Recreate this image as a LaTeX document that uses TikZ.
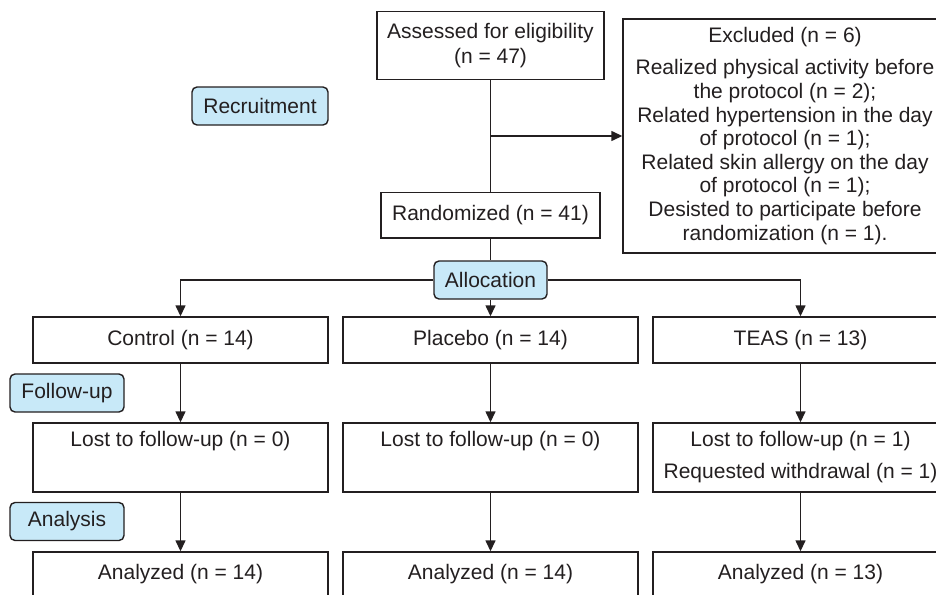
\documentclass[tikz,border=0pt]{standalone}
\usepackage{fontspec}
\setmainfont{Liberation Sans}
\usepackage{tikz}
\usetikzlibrary{arrows.meta,positioning}
\definecolor{line_gray}{RGB}{35,31,32}
\definecolor{stage_blue}{RGB}{200,233,248}

\begin{document}
\begin{tikzpicture}[x=1pt, y=-1pt, font=\fontsize{21}{23.6}\selectfont,
    color=line_gray, line width=1.4pt,
    box/.style={draw=line_gray, fill=white, inner sep=0pt, align=center},
    stage/.style={draw=line_gray, fill=stage_blue, rounded corners=5pt,
      inner sep=0pt, minimum height=38pt},
    flow/.style={-{Triangle[length=11pt,width=10pt]}}]
  \useasboundingbox (0,0) rectangle (936,594);
  \clip (0,0) rectangle (936,594);

  % enrollment
  \node[box, minimum width=227pt, minimum height=67.6pt] (assess) at (490.5,45.5)
    {Assessed for eligibility\\[1.4pt](n = 47)};
  \node[box, minimum width=324pt, minimum height=234pt] (excl) at (785,136)
    {Excluded (n = 6)\\[8.4pt]Realized physical activity before\\the protocol (n = 2);\\
     Related hypertension in the day\\of protocol (n = 1);\\
     Related skin allergy on the day\\of protocol (n = 1);\\
     Desisted to participate before\\randomization (n = 1).};
  \node[box, minimum width=219.3pt, minimum height=45.3pt] (rand) at (490.5,215.4)
    {Randomized (n = 41)};

  % stages
  \node[stage, minimum width=136pt] (recruit) at (260,106) {Recruitment};
  \node[stage, minimum width=113pt] (alloc) at (490.5,280) {Allocation};
  \node[stage, minimum width=114pt] (follow) at (67,393) {Follow-up};
  \node[stage, minimum width=114pt] (analysis) at (67,521.5) {Analysis};

  % groups
  \node[box, minimum width=295pt, minimum height=46pt] (ctrl) at (180.5,340) {Control (n = 14)};
  \node[box, minimum width=295pt, minimum height=46pt] (plac) at (490.5,340) {Placebo (n = 14)};
  \node[box, minimum width=295pt, minimum height=46pt] (teas) at (800.5,340) {TEAS (n = 13)};

  \node[box, minimum width=295pt, minimum height=69pt] (ctrl-lost) at (180.5,457.5)
    {\strut Lost to follow-up (n = 0)\\[8.4pt]\strut};
  \node[box, minimum width=295pt, minimum height=69pt] (plac-lost) at (490.5,457.5)
    {\strut Lost to follow-up (n = 0)\\[8.4pt]\strut};
  \node[box, minimum width=295pt, minimum height=69pt] (teas-lost) at (800.5,457.5)
    {\strut Lost to follow-up (n = 1)\\[8.4pt]\strut Requested withdrawal (n = 1)};

  \node[box, minimum width=295pt, minimum height=44pt] (ctrl-ana) at (180.5,574) {Analyzed (n = 14)};
  \node[box, minimum width=295pt, minimum height=44pt] (plac-ana) at (490.5,574) {Analyzed (n = 14)};
  \node[box, minimum width=295pt, minimum height=44pt] (teas-ana) at (800.5,574) {Analyzed (n = 13)};

  % connectors
  \coordinate (split) at (assess.south |- excl.west);
  \draw (assess) -- (rand);
  \draw[flow] (split) -- (excl);
  \draw (rand) -- (alloc);
  \draw[flow] (alloc) -| (ctrl);
  \draw[flow] (alloc) -- (plac);
  \draw[flow] (alloc) -| (teas);
  \foreach \grp in {ctrl,plac,teas} {
    \draw[flow] (\grp) -- (\grp-lost);
    \draw[flow] (\grp-lost) -- (\grp-ana);
  }
\end{tikzpicture}
\end{document}
